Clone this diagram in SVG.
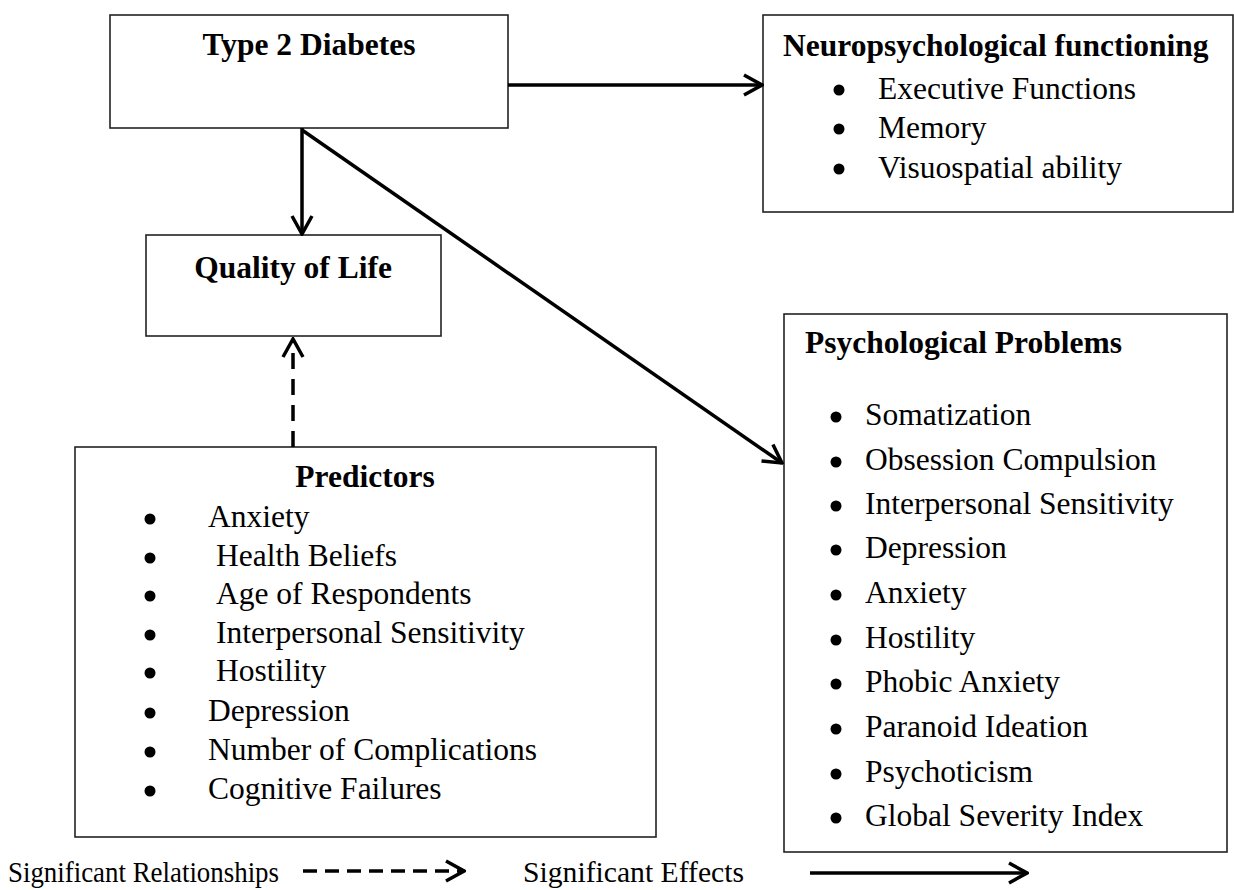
<svg xmlns="http://www.w3.org/2000/svg" width="1234" height="890" viewBox="0 0 1234 890">
<style>
.box{fill:#fff;stroke:#222;stroke-width:1.6}
text{font-family:"Liberation Serif","Times New Roman",serif;font-size:31.5px;fill:#000}
.t{font-weight:bold}
.c{text-anchor:middle}
.bl{fill:#000}
.leg{font-size:30px}
.ln{stroke:#000;stroke-width:3.5;fill:none}
.dash{stroke-dasharray:16 10}
</style>
<defs>
<marker id="ah" markerUnits="userSpaceOnUse" viewBox="0 0 22 24" refX="20" refY="12" markerWidth="22" markerHeight="24" orient="auto">
<path d="M2,2 L20,12 L2,22" fill="none" stroke="#000" stroke-width="3.5"/>
</marker>
</defs>
<rect width="1234" height="890" fill="#fff"/>
<g id="type2">
<rect class="box" x="110" y="15" width="398" height="113"/>
<text class="t c" x="309" y="55">Type 2 Diabetes</text>
</g>
<g id="neuro">
<rect class="box" x="763" y="15" width="470" height="197"/>
<text class="t" x="783" y="56">Neuropsychological functioning</text>
<g class="bl"><circle cx="839" cy="90" r="5.5"/><circle cx="839" cy="129" r="5.5"/><circle cx="839" cy="169" r="5.5"/></g>
<text x="878" y="99">Executive Functions</text>
<text x="878" y="138">Memory</text>
<text x="878" y="178">Visuospatial ability</text>
</g>
<g id="qol">
<rect class="box" x="146" y="235" width="295" height="101"/>
<text class="t c" x="293" y="278">Quality of Life</text>
</g>
<g id="predictors">
<rect class="box" x="75" y="447" width="581" height="390"/>
<text class="t c" x="365" y="487">Predictors</text>
<g class="bl"><circle cx="150" cy="519" r="5.5"/><circle cx="150" cy="558" r="5.5"/><circle cx="150" cy="596" r="5.5"/><circle cx="150" cy="635" r="5.5"/><circle cx="150" cy="673" r="5.5"/><circle cx="150" cy="713" r="5.5"/><circle cx="150" cy="752" r="5.5"/><circle cx="150" cy="791" r="5.5"/></g>
<text x="208" y="527">Anxiety</text>
<text x="216" y="566">Health Beliefs</text>
<text x="216" y="604">Age of Respondents</text>
<text x="216" y="643">Interpersonal Sensitivity</text>
<text x="216" y="681">Hostility</text>
<text x="208" y="721">Depression</text>
<text x="208" y="760">Number of Complications</text>
<text x="208" y="799">Cognitive Failures</text>
</g>
<g id="psych">
<rect class="box" x="784" y="314" width="443" height="538"/>
<text class="t" x="805" y="353">Psychological Problems</text>
<g class="bl"><circle cx="836" cy="417" r="5.5"/><circle cx="836" cy="462" r="5.5"/><circle cx="836" cy="506" r="5.5"/><circle cx="836" cy="550" r="5.5"/><circle cx="836" cy="595" r="5.5"/><circle cx="836" cy="640" r="5.5"/><circle cx="836" cy="684" r="5.5"/><circle cx="836" cy="729" r="5.5"/><circle cx="836" cy="774" r="5.5"/><circle cx="836" cy="818" r="5.5"/></g>
<text x="865" y="425">Somatization</text>
<text x="865" y="470">Obsession Compulsion</text>
<text x="865" y="514">Interpersonal Sensitivity</text>
<text x="865" y="558">Depression</text>
<text x="865" y="603">Anxiety</text>
<text x="865" y="648">Hostility</text>
<text x="865" y="692">Phobic Anxiety</text>
<text x="865" y="737">Paranoid Ideation</text>
<text x="865" y="782">Psychoticism</text>
<text x="865" y="826">Global Severity Index</text>
</g>
<g id="connectors">
<line class="ln" x1="508" y1="85" x2="762" y2="85" marker-end="url(#ah)"/>
<line class="ln" x1="302" y1="128" x2="302" y2="234" marker-end="url(#ah)"/>
<line class="ln" x1="302" y1="130" x2="782" y2="463" marker-end="url(#ah)"/>
<line class="ln dash" x1="293" y1="447" x2="293" y2="339" marker-end="url(#ah)"/>
</g>
<g id="legend">
<text class="leg" x="8" y="882" textLength="271" lengthAdjust="spacingAndGlyphs">Significant Relationships</text>
<line class="ln" x1="303" y1="871" x2="464" y2="871" stroke-dasharray="14 8" marker-end="url(#ah)"/>
<text class="leg" x="523" y="882" textLength="221" lengthAdjust="spacingAndGlyphs">Significant Effects</text>
<line class="ln" x1="810" y1="873" x2="1027" y2="873" marker-end="url(#ah)"/>
</g>
</svg>
